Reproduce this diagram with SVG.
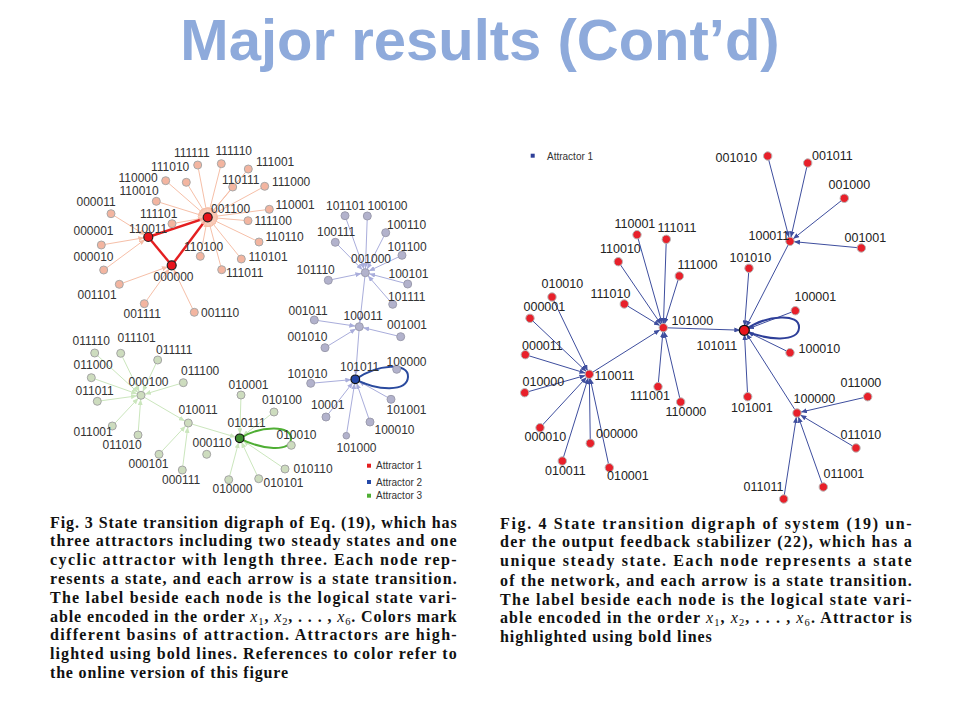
<svg xmlns="http://www.w3.org/2000/svg" width="960" height="720" viewBox="0 0 960 720">
<style>
.title{font-family:"Liberation Sans",Arial,sans-serif;font-weight:bold;font-size:58px;fill:#8eaadb}
.tl{font-family:"Liberation Sans",Arial,sans-serif;font-size:12px;fill:#333}
.tr{font-family:"Liberation Sans",Arial,sans-serif;font-size:12.5px;fill:#222}
.lg{font-family:"Liberation Sans",Arial,sans-serif;font-size:10px;fill:#333}
.cap{font-family:"Liberation Serif","Times New Roman",serif;font-weight:bold;font-size:16px;fill:#111}
.mi{font-weight:normal;font-style:italic}
.sub{font-weight:normal;font-size:10.5px}
.nr{fill:#f3b5a0;stroke:#a8a8a8;stroke-width:1}
.nb{fill:#b2b2cc;stroke:#9c9cae;stroke-width:1}
.ng{fill:#cddcbe;stroke:#a4a4a4;stroke-width:1}
.nf{fill:#e8202a;stroke:#b8b8b8;stroke-width:1}
.er{stroke:#f6bfa8;stroke-width:1;fill:none;marker-end:url(#ar)}
.eb{stroke:#a9addb;stroke-width:1;fill:none;marker-end:url(#ab)}
.eg{stroke:#cbe6bd;stroke-width:1;fill:none;marker-end:url(#ag)}
.ef{stroke:#3e4e9e;stroke-width:1;fill:none;marker-end:url(#af)}
</style>
<defs>
<marker id="ar" markerUnits="userSpaceOnUse" markerWidth="6" markerHeight="5" refX="10" refY="2.5" orient="auto"><path d="M0,0 L6,2.5 L0,5 z" fill="#f6bfa8"/></marker>
<marker id="ab" markerUnits="userSpaceOnUse" markerWidth="6" markerHeight="5" refX="10" refY="2.5" orient="auto"><path d="M0,0 L6,2.5 L0,5 z" fill="#a9addb"/></marker>
<marker id="ag" markerUnits="userSpaceOnUse" markerWidth="6" markerHeight="5" refX="10" refY="2.5" orient="auto"><path d="M0,0 L6,2.5 L0,5 z" fill="#cbe6bd"/></marker>
<marker id="af" markerUnits="userSpaceOnUse" markerWidth="6" markerHeight="5" refX="10" refY="2.5" orient="auto"><path d="M0,0 L6,2.5 L0,5 z" fill="#3e4e9e"/></marker>
</defs>
<rect width="960" height="720" fill="#fff"/>
<text class="title" x="480" y="60" text-anchor="middle">Major results (Cont’d)</text>

<g id="connectors">
<!-- left red basin -->
<line class="er" x1="197.7" y1="165" x2="207.7" y2="217.3"/>
<line class="er" x1="221.3" y1="163.7" x2="207.7" y2="217.3"/>
<line class="er" x1="186.3" y1="182.3" x2="207.7" y2="217.3"/>
<line class="er" x1="165.7" y1="180.7" x2="207.7" y2="217.3"/>
<line class="er" x1="156.3" y1="201.3" x2="207.7" y2="217.3"/>
<line class="er" x1="172" y1="223.7" x2="207.7" y2="217.3"/>
<line class="er" x1="200.3" y1="256.3" x2="207.7" y2="217.3"/>
<line class="er" x1="232.7" y1="187" x2="207.7" y2="217.3"/>
<line class="er" x1="248.3" y1="169" x2="207.7" y2="217.3"/>
<line class="er" x1="264.7" y1="186.3" x2="207.7" y2="217.3"/>
<line class="er" x1="269.3" y1="209.3" x2="207.7" y2="217.3"/>
<line class="er" x1="248" y1="220.7" x2="207.7" y2="217.3"/>
<line class="er" x1="259" y1="242" x2="207.7" y2="217.3"/>
<line class="er" x1="241.3" y1="259" x2="207.7" y2="217.3"/>
<line class="er" x1="221.7" y1="269.7" x2="207.7" y2="217.3"/>
<line class="er" x1="111" y1="213.7" x2="148.3" y2="237"/>
<line class="er" x1="101.3" y1="245" x2="148.3" y2="237"/>
<line class="er" x1="103.7" y1="270" x2="148.3" y2="237"/>
<line class="er" x1="119.3" y1="284.3" x2="171.7" y2="265.3"/>
<line class="er" x1="144.3" y1="303.7" x2="171.7" y2="265.3"/>
<line class="er" x1="194.3" y1="312.3" x2="171.7" y2="265.3"/>
<g stroke="#e41e20" stroke-width="2.4" fill="none">
<line x1="207.7" y1="217.3" x2="148.3" y2="237"/>
<line x1="148.3" y1="237" x2="171.7" y2="265.3"/>
<line x1="171.7" y1="265.3" x2="207.7" y2="217.3"/>
</g>
<!-- left blue basin -->
<line class="eb" x1="345" y1="215.7" x2="365.3" y2="272.7"/>
<line class="eb" x1="367.3" y1="216" x2="365.3" y2="272.7"/>
<line class="eb" x1="335.3" y1="242.3" x2="365.3" y2="272.7"/>
<line class="eb" x1="385.7" y1="232.7" x2="365.3" y2="272.7"/>
<line class="eb" x1="402" y1="255.3" x2="365.3" y2="272.7"/>
<line class="eb" x1="328.3" y1="280.3" x2="365.3" y2="272.7"/>
<line class="eb" x1="407.7" y1="284" x2="365.3" y2="272.7"/>
<line class="eb" x1="392.7" y1="304.3" x2="365.3" y2="272.7"/>
<line class="eb" x1="365.3" y1="272.7" x2="359.3" y2="326.7"/>
<line class="eb" x1="314.3" y1="320" x2="359.3" y2="326.7"/>
<line class="eb" x1="400.7" y1="336.7" x2="359.3" y2="326.7"/>
<line class="eb" x1="325" y1="347.7" x2="359.3" y2="326.7"/>
<line class="eb" x1="359.3" y1="326.7" x2="355.3" y2="379.3"/>
<line class="eb" x1="310.7" y1="383.3" x2="355.3" y2="379.3"/>
<line class="eb" x1="326" y1="417" x2="355.3" y2="379.3"/>
<line class="eb" x1="391" y1="399.3" x2="355.3" y2="379.3"/>
<line class="eb" x1="370" y1="422" x2="355.3" y2="379.3"/>
<line class="eb" x1="346.3" y1="435.7" x2="355.3" y2="379.3"/>
<path d="M355.3,379.3 C378,364 409,362 408,377 C407,392 378,391 355.3,379.3" stroke="#2a4a9e" stroke-width="2" fill="none"/>
<!-- left green basin -->
<line class="eg" x1="94.7" y1="353" x2="141" y2="395.3"/>
<line class="eg" x1="120.7" y1="353.3" x2="141" y2="395.3"/>
<line class="eg" x1="157.7" y1="360" x2="141" y2="395.3"/>
<line class="eg" x1="91.3" y1="377.7" x2="141" y2="395.3"/>
<line class="eg" x1="183.3" y1="382.7" x2="141" y2="395.3"/>
<line class="eg" x1="97.3" y1="401.3" x2="141" y2="395.3"/>
<line class="eg" x1="112.3" y1="426" x2="141" y2="395.3"/>
<line class="eg" x1="138" y1="435" x2="141" y2="395.3"/>
<line class="eg" x1="141" y1="395.3" x2="188.3" y2="423"/>
<line class="eg" x1="159" y1="454.3" x2="188.3" y2="423"/>
<line class="eg" x1="182.3" y1="470" x2="188.3" y2="423"/>
<line class="eg" x1="188.3" y1="423" x2="239.7" y2="438.3"/>
<line class="eg" x1="241" y1="395" x2="239.7" y2="438.3"/>
<line class="eg" x1="274" y1="412" x2="239.7" y2="438.3"/>
<line class="eg" x1="285" y1="469" x2="239.7" y2="438.3"/>
<line class="eg" x1="258.7" y1="478.7" x2="239.7" y2="438.3"/>
<line class="eg" x1="228.7" y1="479.7" x2="239.7" y2="438.3"/>
<path d="M239.7,438.3 C262,425 292,425 291,439 C290,452 262,450 239.7,438.3" stroke="#4fae34" stroke-width="2" fill="none"/>
<!-- right graph -->
<line class="ef" x1="637" y1="234.7" x2="663.3" y2="327.7"/>
<line class="ef" x1="666.3" y1="239.3" x2="663.3" y2="327.7"/>
<line class="ef" x1="618.3" y1="261.7" x2="663.3" y2="327.7"/>
<line class="ef" x1="679.3" y1="276" x2="663.3" y2="327.7"/>
<line class="ef" x1="624.3" y1="304" x2="663.3" y2="327.7"/>
<line class="ef" x1="658" y1="386.7" x2="663.3" y2="327.7"/>
<line class="ef" x1="680.7" y1="402" x2="663.3" y2="327.7"/>
<line class="ef" x1="589.3" y1="374.3" x2="663.3" y2="327.7"/>
<line class="ef" x1="663.3" y1="327.7" x2="744.3" y2="330.3"/>
<line class="ef" x1="552" y1="297" x2="589.3" y2="374.3"/>
<line class="ef" x1="530" y1="318.3" x2="589.3" y2="374.3"/>
<line class="ef" x1="525.3" y1="354.7" x2="589.3" y2="374.3"/>
<line class="ef" x1="524.7" y1="392.7" x2="589.3" y2="374.3"/>
<line class="ef" x1="540" y1="427.7" x2="589.3" y2="374.3"/>
<line class="ef" x1="590.3" y1="443.3" x2="589.3" y2="374.3"/>
<line class="ef" x1="562.3" y1="461" x2="589.3" y2="374.3"/>
<line class="ef" x1="609.3" y1="467.7" x2="589.3" y2="374.3"/>
<line class="ef" x1="767.7" y1="156" x2="790" y2="241.3"/>
<line class="ef" x1="807.7" y1="163" x2="790" y2="241.3"/>
<line class="ef" x1="844.3" y1="198.3" x2="790" y2="241.3"/>
<line class="ef" x1="861.3" y1="248" x2="790" y2="241.3"/>
<line class="ef" x1="790" y1="241.3" x2="744.3" y2="330.3"/>
<line class="ef" x1="749" y1="268.3" x2="744.3" y2="330.3"/>
<line class="ef" x1="795.3" y1="310.7" x2="744.3" y2="330.3"/>
<line class="ef" x1="790" y1="352.7" x2="744.3" y2="330.3"/>
<line class="ef" x1="747.7" y1="396.7" x2="744.3" y2="330.3"/>
<line class="ef" x1="797" y1="413" x2="744.3" y2="330.3"/>
<line class="ef" x1="867.7" y1="396.7" x2="797" y2="413"/>
<line class="ef" x1="856" y1="448" x2="797" y2="413"/>
<line class="ef" x1="823.3" y1="487" x2="797" y2="413"/>
<line class="ef" x1="783.7" y1="499" x2="797" y2="413"/>
<path d="M744.3,330.3 C768,314 800,313 799,328 C798,342 768,341 744.3,330.3" stroke="#2e3f99" stroke-width="2" fill="none"/>
</g>

<!-- left graph nodes: red basin -->
<g id="l-111111"><circle class="nr" cx="197.7" cy="165" r="4"/><text class="tl" x="174" y="157">111111</text></g>
<g id="l-111110"><circle class="nr" cx="221.3" cy="163.7" r="4"/><text class="tl" x="215.5" y="155">111110</text></g>
<g id="l-111010"><circle class="nr" cx="186.3" cy="182.3" r="4"/><text class="tl" x="151" y="171">111010</text></g>
<g id="l-110000"><circle class="nr" cx="165.7" cy="180.7" r="4"/><text class="tl" x="118.5" y="182">110000</text></g>
<g id="l-110010"><circle class="nr" cx="156.3" cy="201.3" r="4"/><text class="tl" x="119.5" y="195">110010</text></g>
<g id="l-000011"><circle class="nr" cx="111" cy="213.7" r="4"/><text class="tl" x="76.5" y="206">000011</text></g>
<g id="l-111101"><circle class="nr" cx="172" cy="223.7" r="4"/><text class="tl" x="140" y="218">111101</text></g>
<g id="l-000001"><circle class="nr" cx="101.3" cy="245" r="4"/><text class="tl" x="73.5" y="235">000001</text></g>
<g id="l-000010"><circle class="nr" cx="103.7" cy="270" r="4"/><text class="tl" x="73.5" y="261">000010</text></g>
<g id="l-110100"><circle class="nr" cx="200.3" cy="256.3" r="4"/><text class="tl" x="184" y="251">110100</text></g>
<g id="l-001101"><circle class="nr" cx="119.3" cy="284.3" r="4"/><text class="tl" x="77.5" y="298.5">001101</text></g>
<g id="l-001111"><circle class="nr" cx="144.3" cy="303.7" r="4"/><text class="tl" x="123.5" y="318">001111</text></g>
<g id="l-001110"><circle class="nr" cx="194.3" cy="312.3" r="4"/><text class="tl" x="201" y="316.5">001110</text></g>
<g id="l-110111"><circle class="nr" cx="232.7" cy="187" r="4"/><text class="tl" x="222" y="183.5">110111</text></g>
<g id="l-111001"><circle class="nr" cx="248.3" cy="169" r="4"/><text class="tl" x="256" y="166">111001</text></g>
<g id="l-111000"><circle class="nr" cx="264.7" cy="186.3" r="4"/><text class="tl" x="272" y="186">111000</text></g>
<g id="l-110001"><circle class="nr" cx="269.3" cy="209.3" r="4"/><text class="tl" x="275.5" y="208.5">110001</text></g>
<g id="l-111100"><circle class="nr" cx="248" cy="220.7" r="4"/><text class="tl" x="254.5" y="225">111100</text></g>
<g id="l-110110"><circle class="nr" cx="259" cy="242" r="4"/><text class="tl" x="265.5" y="241">110110</text></g>
<g id="l-110101"><circle class="nr" cx="241.3" cy="259" r="4"/><text class="tl" x="248.5" y="261">110101</text></g>
<g id="l-111011"><circle class="nr" cx="221.7" cy="269.7" r="4"/><text class="tl" x="226" y="276.5">111011</text></g>
<g id="l-001100"><circle cx="207.7" cy="217.3" r="8.5" fill="#f9c9b6" opacity="0.8"/><circle cx="207.7" cy="217.3" r="4.5" fill="#e8141c" stroke="#222" stroke-width="1.2"/><text class="tl" x="211" y="212.5">001100</text></g>
<g id="l-110011"><circle cx="148.3" cy="237" r="4.5" fill="#e8141c" stroke="#222" stroke-width="1.2"/><text class="tl" x="129" y="232.5">110011</text></g>
<g id="l-000000"><circle cx="171.7" cy="265.3" r="4.5" fill="#e8141c" stroke="#222" stroke-width="1.2"/><text class="tl" x="153.5" y="281">000000</text></g>

<!-- left graph nodes: blue basin -->
<g id="l-101101"><circle class="nb" cx="345" cy="215.7" r="4"/><text class="tl" x="326" y="210">101101</text></g>
<g id="l-100100"><circle class="nb" cx="367.3" cy="216" r="4"/><text class="tl" x="367.5" y="210">100100</text></g>
<g id="l-100111"><circle class="nb" cx="335.3" cy="242.3" r="4"/><text class="tl" x="317" y="236">100111</text></g>
<g id="l-100110"><circle class="nb" cx="385.7" cy="232.7" r="4"/><text class="tl" x="387" y="228.5">100110</text></g>
<g id="l-101100"><circle class="nb" cx="402" cy="255.3" r="4"/><text class="tl" x="387.5" y="251">101100</text></g>
<g id="l-001000"><circle class="nb" cx="365.3" cy="272.7" r="4"/><text class="tl" x="351" y="263">001000</text></g>
<g id="l-101110"><circle class="nb" cx="328.3" cy="280.3" r="4"/><text class="tl" x="296.5" y="273.5">101110</text></g>
<g id="l-100101"><circle class="nb" cx="407.7" cy="284" r="4"/><text class="tl" x="388.5" y="277.5">100101</text></g>
<g id="l-101111"><circle class="nb" cx="392.7" cy="304.3" r="4"/><text class="tl" x="388" y="301">101111</text></g>
<g id="l-100011"><circle class="nb" cx="359.3" cy="326.7" r="4"/><text class="tl" x="343.5" y="320">100011</text></g>
<g id="l-001011"><circle class="nb" cx="314.3" cy="320" r="4"/><text class="tl" x="288.5" y="315">001011</text></g>
<g id="l-001001"><circle class="nb" cx="400.7" cy="336.7" r="4"/><text class="tl" x="387" y="329">001001</text></g>
<g id="l-001010"><circle class="nb" cx="325" cy="347.7" r="4"/><text class="tl" x="287.5" y="341">001010</text></g>
<g id="l-100000"><circle class="nb" cx="396.7" cy="369.3" r="4"/><text class="tl" x="386.5" y="366">100000</text></g>
<g id="l-101010"><circle class="nb" cx="310.7" cy="383.3" r="4"/><text class="tl" x="287.5" y="377.5">101010</text></g>
<g id="l-10001"><circle class="nb" cx="326" cy="417" r="4"/><text class="tl" x="311" y="409">10001</text></g>
<g id="l-101001"><circle class="nb" cx="391" cy="399.3" r="4"/><text class="tl" x="386.5" y="413.5">101001</text></g>
<g id="l-100010"><circle class="nb" cx="370" cy="422" r="4"/><text class="tl" x="374.5" y="434">100010</text></g>
<g id="l-101000"><circle class="nb" cx="346.3" cy="435.7" r="3.3" fill="#c4c4dc"/><text class="tl" x="336.5" y="451.5">101000</text></g>
<g id="l-101011"><circle cx="355.3" cy="379.3" r="4.3" fill="#2448a8" stroke="#111" stroke-width="1.2"/><text class="tl" x="340" y="371">101011</text></g>

<!-- left graph nodes: green basin -->
<g id="l-000100"><circle class="ng" cx="141" cy="395.3" r="4"/><text class="tl" x="128.5" y="386">000100</text></g>
<g id="l-011110"><circle class="ng" cx="94.7" cy="353" r="4"/><text class="tl" x="72.5" y="345">011110</text></g>
<g id="l-011101"><circle class="ng" cx="120.7" cy="353.3" r="4"/><text class="tl" x="117.5" y="341.5">011101</text></g>
<g id="l-011111"><circle class="ng" cx="157.7" cy="360" r="4"/><text class="tl" x="156" y="353.5">011111</text></g>
<g id="l-011000"><circle class="ng" cx="91.3" cy="377.7" r="4"/><text class="tl" x="73.5" y="369">011000</text></g>
<g id="l-011100"><circle class="ng" cx="183.3" cy="382.7" r="4"/><text class="tl" x="181" y="375">011100</text></g>
<g id="l-011011"><circle class="ng" cx="97.3" cy="401.3" r="4"/><text class="tl" x="75.5" y="395">011011</text></g>
<g id="l-011001"><circle class="ng" cx="112.3" cy="426" r="4"/><text class="tl" x="73.5" y="436">011001</text></g>
<g id="l-011010"><circle class="ng" cx="138" cy="435" r="4"/><text class="tl" x="102.5" y="449">011010</text></g>
<g id="l-010011"><circle class="ng" cx="188.3" cy="423" r="4"/><text class="tl" x="178.5" y="413.5">010011</text></g>
<g id="l-000110"><circle class="ng" cx="206.7" cy="454.3" r="4"/><text class="tl" x="192.5" y="447">000110</text></g>
<g id="l-000101"><circle class="ng" cx="159" cy="454.3" r="4"/><text class="tl" x="128.5" y="468">000101</text></g>
<g id="l-000111"><circle class="ng" cx="182.3" cy="470" r="4"/><text class="tl" x="162" y="483.5">000111</text></g>
<g id="l-010001"><circle class="ng" cx="241" cy="395" r="4"/><text class="tl" x="228.5" y="389">010001</text></g>
<g id="l-010100"><circle class="ng" cx="274" cy="412" r="4"/><text class="tl" x="262" y="404">010100</text></g>
<g id="l-010010"><circle class="ng" cx="291.3" cy="445.3" r="4"/><text class="tl" x="276.5" y="439">010010</text></g>
<g id="l-010110"><circle class="ng" cx="285" cy="469" r="4"/><text class="tl" x="293.5" y="472.5">010110</text></g>
<g id="l-010101"><circle class="ng" cx="258.7" cy="478.7" r="4"/><text class="tl" x="263.5" y="487">010101</text></g>
<g id="l-010000"><circle class="ng" cx="228.7" cy="479.7" r="4"/><text class="tl" x="212.5" y="493">010000</text></g>
<g id="l-010111"><circle cx="239.7" cy="438.3" r="4.3" fill="#3e8e2e" stroke="#111" stroke-width="1.2"/><text class="tl" x="227.5" y="427">010111</text></g>

<!-- left legend -->
<g id="legend-left">
<rect x="367" y="463.7" width="4" height="4" fill="#e41e20"/><text class="lg" x="376" y="469">Attractor 1</text>
<rect x="367" y="480" width="4" height="4" fill="#2448a8"/><text class="lg" x="376" y="485.5">Attractor 2</text>
<rect x="367" y="493.7" width="4" height="4" fill="#4fae34"/><text class="lg" x="376" y="499">Attractor 3</text>
</g>

<!-- right graph nodes -->
<g id="legend-right"><rect x="530.7" y="153.7" width="4" height="4" fill="#2e3f99"/><text class="lg" x="547" y="159.5">Attractor 1</text></g>
<g id="r-110001"><circle class="nf" cx="637" cy="234.7" r="4.2"/><text class="tr" x="614.5" y="228">110001</text></g>
<g id="r-111011"><circle class="nf" cx="666.3" cy="239.3" r="4.2"/><text class="tr" x="657.5" y="232">111011</text></g>
<g id="r-110010"><circle class="nf" cx="618.3" cy="261.7" r="4.2"/><text class="tr" x="600" y="253">110010</text></g>
<g id="r-111000"><circle class="nf" cx="679.3" cy="276" r="4.2"/><text class="tr" x="677.5" y="268.5">111000</text></g>
<g id="r-010010"><circle class="nf" cx="552" cy="297" r="4.2"/><text class="tr" x="541.5" y="288">010010</text></g>
<g id="r-111010"><circle class="nf" cx="624.3" cy="304" r="4.2"/><text class="tr" x="590.5" y="298">111010</text></g>
<g id="r-000001"><circle class="nf" cx="530" cy="318.3" r="4.2"/><text class="tr" x="523.5" y="311">000001</text></g>
<g id="r-101000"><circle class="nf" cx="663.3" cy="327.7" r="4.2"/><text class="tr" x="671.5" y="324.5">101000</text></g>
<g id="r-001010"><circle class="nf" cx="767.7" cy="156" r="4.2"/><text class="tr" x="715.5" y="162">001010</text></g>
<g id="r-001011"><circle class="nf" cx="807.7" cy="163" r="4.2"/><text class="tr" x="812" y="160">001011</text></g>
<g id="r-001000"><circle class="nf" cx="844.3" cy="198.3" r="4.2"/><text class="tr" x="828.5" y="189">001000</text></g>
<g id="r-100011"><circle class="nf" cx="790" cy="241.3" r="4.2"/><text class="tr" x="748.5" y="240">100011</text></g>
<g id="r-001001"><circle class="nf" cx="861.3" cy="248" r="4.2"/><text class="tr" x="844.5" y="242">001001</text></g>
<g id="r-101010"><circle class="nf" cx="749" cy="268.3" r="4.2"/><text class="tr" x="729.5" y="262">101010</text></g>
<g id="r-100001"><circle class="nf" cx="795.3" cy="310.7" r="4.2"/><text class="tr" x="794.5" y="301">100001</text></g>
<g id="r-100010"><circle class="nf" cx="790" cy="352.7" r="4.2"/><text class="tr" x="798.5" y="353">100010</text></g>
<g id="r-101001"><circle class="nf" cx="747.7" cy="396.7" r="4.2"/><text class="tr" x="731" y="412">101001</text></g>
<g id="r-100000"><circle class="nf" cx="797" cy="413" r="4.2"/><text class="tr" x="793.5" y="403">100000</text></g>
<g id="r-011000"><circle class="nf" cx="867.7" cy="396.7" r="4.2"/><text class="tr" x="840.5" y="387">011000</text></g>
<g id="r-011010"><circle class="nf" cx="856" cy="448" r="4.2"/><text class="tr" x="840.5" y="438.5">011010</text></g>
<g id="r-011001"><circle class="nf" cx="823.3" cy="487" r="4.2"/><text class="tr" x="823.5" y="478">011001</text></g>
<g id="r-011011"><circle class="nf" cx="783.7" cy="499" r="4.2"/><text class="tr" x="743.5" y="490.5">011011</text></g>
<g id="r-000011"><circle class="nf" cx="525.3" cy="354.7" r="4.2"/><text class="tr" x="522" y="349.5">000011</text></g>
<g id="r-110011"><circle class="nf" cx="589.3" cy="374.3" r="4.2"/><text class="tr" x="594.5" y="379.5">110011</text></g>
<g id="r-010000"><circle class="nf" cx="524.7" cy="392.7" r="4.2"/><text class="tr" x="522.5" y="386">010000</text></g>
<g id="r-000010"><circle class="nf" cx="540" cy="427.7" r="4.2"/><text class="tr" x="524.5" y="440.5">000010</text></g>
<g id="r-000000"><circle class="nf" cx="590.3" cy="443.3" r="4.2"/><text class="tr" x="596" y="438">000000</text></g>
<g id="r-010011"><circle class="nf" cx="562.3" cy="461" r="4.2"/><text class="tr" x="545" y="474.5">010011</text></g>
<g id="r-010001"><circle class="nf" cx="609.3" cy="467.7" r="4.2"/><text class="tr" x="607" y="480">010001</text></g>
<g id="r-111001"><circle class="nf" cx="658" cy="386.7" r="4.2"/><text class="tr" x="630" y="400">111001</text></g>
<g id="r-110000"><circle class="nf" cx="680.7" cy="402" r="4.2"/><text class="tr" x="665.5" y="416">110000</text></g>
<g id="r-101011"><circle cx="744.3" cy="330.3" r="5" fill="#e8141c" stroke="#111" stroke-width="1.3"/><text class="tr" x="696.5" y="349.5">101011</text></g>

<!-- captions -->
<g id="caption-fig3">
<text class="cap" x="50" y="527.5" textLength="406.7" lengthAdjust="spacing">Fig. 3  State transition digraph of Eq. (19), which has</text>
<text class="cap" x="50" y="546" textLength="406.7" lengthAdjust="spacing">three attractors including two steady states and one</text>
<text class="cap" x="50" y="565" textLength="406.7" lengthAdjust="spacing">cyclic attractor with length three.  Each node rep-</text>
<text class="cap" x="50" y="584" textLength="406.7" lengthAdjust="spacing">resents a state, and each arrow is a state transition.</text>
<text class="cap" x="50" y="602.5" textLength="406.7" lengthAdjust="spacing">The label beside each node is the logical state vari-</text>
<text class="cap" x="50" y="621.5" textLength="406.7" lengthAdjust="spacing">able encoded in the order <tspan class="mi">x</tspan><tspan class="sub" dy="3">1</tspan><tspan dy="-3">, </tspan><tspan class="mi">x</tspan><tspan class="sub" dy="3">2</tspan><tspan dy="-3">, . . . , </tspan><tspan class="mi">x</tspan><tspan class="sub" dy="3">6</tspan><tspan dy="-3">. Colors mark</tspan></text>
<text class="cap" x="50" y="640" textLength="406.7" lengthAdjust="spacing">different basins of attraction.  Attractors are high-</text>
<text class="cap" x="50" y="659" textLength="406.7" lengthAdjust="spacing">lighted using bold lines. References to color refer to</text>
<text class="cap" x="50" y="677.5" textLength="238" lengthAdjust="spacing">the online version of this figure</text>
</g>
<g id="caption-fig4">
<text class="cap" x="500" y="528.5" textLength="411.7" lengthAdjust="spacing">Fig. 4  State transition digraph of system (19) un-</text>
<text class="cap" x="500" y="547" textLength="411.7" lengthAdjust="spacing">der the output feedback stabilizer (22), which has a</text>
<text class="cap" x="500" y="566" textLength="411.7" lengthAdjust="spacing">unique steady state.  Each node represents a state</text>
<text class="cap" x="500" y="585.5" textLength="411.7" lengthAdjust="spacing">of the network, and each arrow is a state transition.</text>
<text class="cap" x="500" y="604.5" textLength="411.7" lengthAdjust="spacing">The label beside each node is the logical state vari-</text>
<text class="cap" x="500" y="623" textLength="411.7" lengthAdjust="spacing">able encoded in the order <tspan class="mi">x</tspan><tspan class="sub" dy="3">1</tspan><tspan dy="-3">, </tspan><tspan class="mi">x</tspan><tspan class="sub" dy="3">2</tspan><tspan dy="-3">, . . . , </tspan><tspan class="mi">x</tspan><tspan class="sub" dy="3">6</tspan><tspan dy="-3">. Attractor is</tspan></text>
<text class="cap" x="500" y="642" textLength="211.7" lengthAdjust="spacing">highlighted using bold lines</text>
</g>
</svg>
